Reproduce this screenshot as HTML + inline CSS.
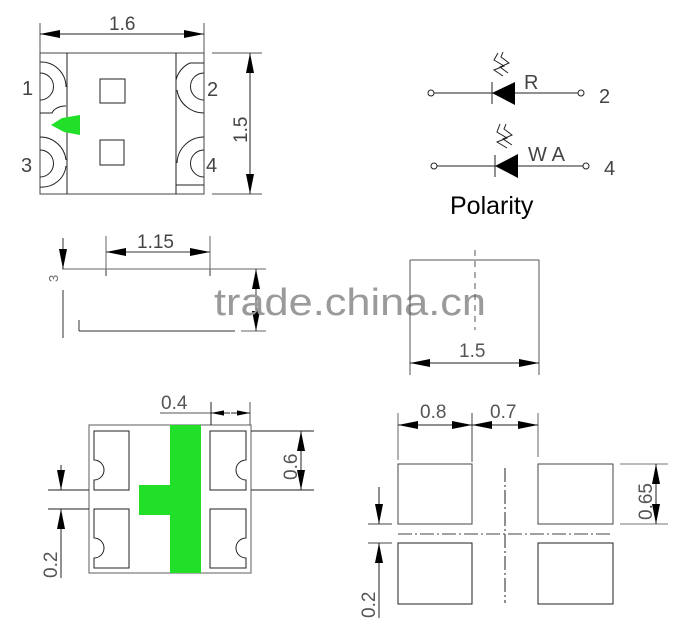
<!DOCTYPE html>
<html><head><meta charset="utf-8"><style>
html,body{margin:0;padding:0;background:#fff}
svg{display:block}
text{font-family:"Liberation Sans",sans-serif}
</style></head><body>
<svg width="698" height="631" viewBox="0 0 698 631" xmlns="http://www.w3.org/2000/svg">
<defs>
<marker id="a" viewBox="0 0 10 4" refX="10" refY="2" markerWidth="20" markerHeight="8" markerUnits="userSpaceOnUse" orient="auto"><path d="M0,0L10,2L0,4z" fill="#000"/></marker>
<marker id="as" viewBox="0 0 10 4" refX="10" refY="2" markerWidth="13" markerHeight="6" markerUnits="userSpaceOnUse" orient="auto"><path d="M0,0L10,2L0,4z" fill="#000"/></marker>
</defs>
<g fill="none" stroke="#222" stroke-width="1">
<line x1="40" y1="23" x2="40" y2="53" stroke="#555"/>
<line x1="204" y1="23" x2="204" y2="53" stroke="#555"/>
<line x1="122" y1="34" x2="40" y2="34" marker-end="url(#a)"/>
<line x1="122" y1="34" x2="204" y2="34" marker-end="url(#a)"/>
<rect x="40" y="53" width="164" height="141" stroke="#444"/>
<line x1="67" y1="53" x2="67" y2="194"/>
<line x1="176" y1="53" x2="176" y2="194"/>
<rect x="100" y="79" width="25" height="24"/>
<rect x="100" y="140" width="24" height="25"/>
<path d="M40,73 A13,13 0 0 1 40,100"/>
<path d="M40,150 A13,13 0 0 1 40,177"/>
<path d="M204,73 A13,13 0 0 0 204,100"/>
<path d="M204,150 A13,13 0 0 0 204,177"/>
<path d="M40,62 A25,25 0 0 1 66,87"/>
<path d="M40,113 L52,113 A14,10 0 0 1 66,106"/>
<path d="M40,137 A26,26 0 0 1 66,160"/>
<path d="M40,187 A24,24 0 0 0 66,166"/>
<path d="M204,63 L190,63 A25,25 0 0 0 176,80"/>
<path d="M204,113 A27,27 0 0 1 177,90"/>
<path d="M204,137 A27,27 0 0 0 177,163"/>
<path d="M204,185 L176,185"/>
<line x1="212" y1="53" x2="262" y2="53" stroke="#555"/>
<line x1="212" y1="194" x2="262" y2="194" stroke="#555"/>
<line x1="250" y1="124" x2="250" y2="53" marker-end="url(#a)"/>
<line x1="250" y1="124" x2="250" y2="194" marker-end="url(#a)"/>
</g>
<path d="M51,125 L62,118 L80,115 L80,135 L64,132 Z" fill="#22e02a"/>
<g fill="#444" font-size="20">
<text x="109" y="30" font-size="19">1.6</text>
<text x="22" y="95">1</text>
<text x="21" y="172">3</text>
<text x="207" y="96">2</text>
<text x="206" y="172">4</text>
<text transform="translate(247,143) rotate(-90)" font-size="19">1.5</text>
</g>
<g fill="none" stroke="#333" stroke-width="1">
<line x1="62" y1="269" x2="266" y2="269" stroke="#666"/>
<path d="M106,276 L106,270 M210,276 L210,270"/>
<line x1="106" y1="236" x2="106" y2="270" stroke="#666"/>
<line x1="210" y1="236" x2="210" y2="270" stroke="#666"/>
<line x1="158" y1="252" x2="106" y2="252" marker-end="url(#a)"/>
<line x1="158" y1="252" x2="210" y2="252" marker-end="url(#a)"/>
<line x1="79" y1="331" x2="235" y2="331"/>
<line x1="79" y1="320" x2="79" y2="331"/>
<line x1="63" y1="238" x2="63" y2="269" marker-end="url(#a)"/>
<line x1="63" y1="290" x2="63" y2="338"/>
<line x1="241" y1="331" x2="266" y2="331" stroke="#666"/>
<line x1="256" y1="300" x2="256" y2="269" marker-end="url(#a)"/>
<line x1="256" y1="300" x2="256" y2="331" marker-end="url(#a)"/>
</g>
<text x="137" y="248" font-size="19" fill="#444">1.15</text>
<text transform="translate(58,282) rotate(-90)" font-size="13" fill="#666">3</text>
<text x="214" y="315" font-size="38" fill="#9a9a9a" textLength="272" lengthAdjust="spacingAndGlyphs">trade.china.cn</text>
<g fill="none" stroke="#222" stroke-width="1">
<circle cx="431" cy="93" r="3"/><circle cx="581" cy="93" r="3"/>
<line x1="434" y1="93" x2="578" y2="93"/>
<line x1="492" y1="82" x2="492" y2="104"/>
<circle cx="434" cy="166" r="3"/><circle cx="586" cy="166" r="3"/>
<line x1="437" y1="166" x2="583" y2="166"/>
<line x1="495" y1="155" x2="495" y2="177"/>
<path d="M503,76 L494,70 L504,66 L494,60 L498,53"/>
<path d="M508,73 L500,67 L509,63 L501,57 L503,52"/>
<path d="M507,148 L497,142 L507,138 L497,132 L500,124"/>
<path d="M512,145 L503,139 L512,135 L504,129 L506,124"/>
</g>
<path d="M492,93 L515,82 L515,105 Z" fill="#000"/>
<path d="M495,166 L518,154 L518,178 Z" fill="#000"/>
<g fill="#444" font-size="20">
<text x="524" y="89">R</text>
<text x="599" y="103">2</text>
<text x="528" y="161" textLength="37">WA</text>
<text x="604" y="175">4</text>
</g>
<text x="450" y="214" font-size="25" fill="#000">Polarity</text>
<g fill="none" stroke="#555" stroke-width="1">
<line x1="410" y1="260" x2="539" y2="260"/>
<line x1="410" y1="260" x2="410" y2="375"/>
<line x1="539" y1="260" x2="539" y2="375"/>
<line x1="475" y1="250" x2="475" y2="330" stroke-dasharray="6,5"/>
<line x1="475" y1="363" x2="410" y2="363" stroke="#222" marker-end="url(#a)"/>
<line x1="475" y1="363" x2="539" y2="363" stroke="#222" marker-end="url(#a)"/>
</g>
<text x="459" y="357" font-size="19" fill="#555">1.5</text>
<g fill="none" stroke="#222" stroke-width="1">
<rect x="89" y="425" width="162" height="148" stroke="#777" stroke-width="1.2"/>
<path d="M94,431 L129,431 L129,490 L94,490 L94,480 A10,10 0 0 0 94,460 Z"/>
<path d="M94,509 L129,509 L129,568 L94,568 L94,558 A10,10 0 0 0 94,538 Z"/>
<path d="M246,431 L210,431 L210,490 L246,490 L246,480 A10,10 0 0 1 246,460 Z"/>
<path d="M246,509 L210,509 L210,568 L246,568 L246,558 A10,10 0 0 1 246,538 Z"/>
<line x1="160" y1="413" x2="211" y2="413" stroke="#555"/>
<line x1="211" y1="402" x2="211" y2="425"/>
<line x1="250" y1="402" x2="250" y2="425" stroke="#555"/>
<line x1="230" y1="413" x2="211" y2="413" marker-end="url(#as)"/>
<line x1="231" y1="413" x2="250" y2="413" marker-end="url(#as)"/>
<line x1="251" y1="431" x2="314" y2="431"/>
<line x1="251" y1="490" x2="314" y2="490"/>
<line x1="301" y1="460" x2="301" y2="431" marker-end="url(#a)"/>
<line x1="301" y1="460" x2="301" y2="490" marker-end="url(#a)"/>
<line x1="48" y1="490" x2="89" y2="490"/>
<line x1="48" y1="509" x2="89" y2="509"/>
<line x1="61" y1="465" x2="61" y2="490" marker-end="url(#a)"/>
<line x1="61" y1="578" x2="61" y2="509" marker-end="url(#a)"/>
</g>
<path d="M170,425 H201 V573 H170 V515 H139 V485 H170 Z" fill="#22e02a"/>
<g fill="#555" font-size="19">
<text x="161" y="409">0.4</text>
<text transform="translate(297,480) rotate(-90)">0.6</text>
<text transform="translate(57,578) rotate(-90)">0.2</text>
</g>
<g fill="none" stroke="#444" stroke-width="1">
<rect x="398" y="464" width="74" height="60"/>
<rect x="398" y="543" width="74" height="61" stroke="#222"/>
<rect x="538" y="464" width="75" height="60"/>
<rect x="538" y="543" width="75" height="61" stroke="#222"/>
<line x1="398" y1="413" x2="398" y2="460" stroke="#666"/>
<line x1="472" y1="413" x2="472" y2="462"/>
<line x1="538" y1="413" x2="538" y2="457" stroke="#666"/>
<line x1="435" y1="425" x2="398" y2="425" stroke="#222" marker-end="url(#a)"/>
<line x1="435" y1="425" x2="472" y2="425" stroke="#222" marker-end="url(#a)"/>
<line x1="505" y1="425" x2="472" y2="425" stroke="#222" marker-end="url(#a)"/>
<line x1="505" y1="425" x2="538" y2="425" stroke="#222" marker-end="url(#a)"/>
<line x1="505" y1="468" x2="505" y2="603" stroke="#222" stroke-dasharray="14,3,2,3"/>
<line x1="398" y1="534" x2="613" y2="534" stroke-dasharray="14,3,2,3"/>
<line x1="620" y1="464" x2="668" y2="464" stroke="#777"/>
<line x1="620" y1="524" x2="668" y2="524" stroke="#777"/>
<line x1="656" y1="494" x2="656" y2="464" stroke="#222" marker-end="url(#a)"/>
<line x1="656" y1="494" x2="656" y2="524" stroke="#222" marker-end="url(#a)"/>
<line x1="368" y1="524" x2="392" y2="524"/>
<line x1="368" y1="543" x2="392" y2="543"/>
<line x1="379" y1="487" x2="379" y2="524" stroke="#222" marker-end="url(#a)"/>
<line x1="379" y1="618" x2="379" y2="543" stroke="#222" marker-end="url(#a)"/>
</g>
<g fill="#555" font-size="19">
<text x="420" y="418">0.8</text>
<text x="490" y="418">0.7</text>
<text transform="translate(652,520) rotate(-90)">0.65</text>
<text transform="translate(375,618) rotate(-90)">0.2</text>
</g>
</svg>
</body></html>
